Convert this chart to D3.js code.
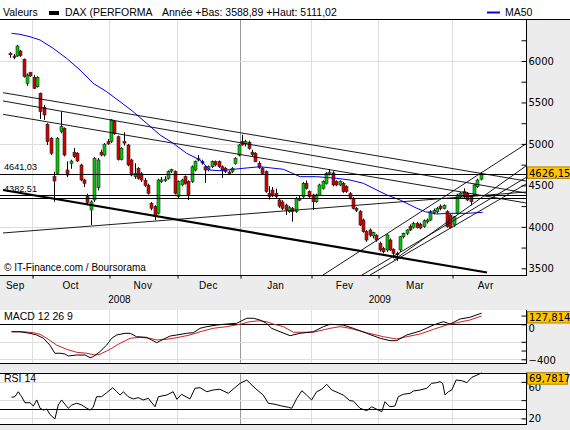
<!DOCTYPE html>
<html>
<head>
<meta charset="utf-8">
<script src="https://cdn.jsdelivr.net/npm/d3@7/dist/d3.min.js"></script>
<style>
  body { margin: 0; background: #ececec; }
  svg { display: block; font-family: "Liberation Sans", Arial, sans-serif; }
  .num { font-family: "DejaVu Sans", sans-serif; font-size: 10px; }
</style>
</head>
<body>
<script>
// daily candles, index 0 = first session shown (late Sep 2008)
var opens = [6093,6060,6060,6121,6021,5731,5859,5803,5690,5610,5441,5237,5068,4605,4645,5148,5188,4685,4766,4900,
  4887,4746,4565,4364,4204,4324,4472,4900,4866,5027,5027,5268,5087,4814,5030,4987,4806,4605,4706,4640,
  4560,4500,4284,4243,4163,4545,4560,4585,4680,4665,4364,4505,4605,4545,4545,4685,4806,4790,4725,4685,
  4725,4786,4786,4725,4706,4660,4665,4766,4866,5027,5000,5020,4900,4887,4766,4706,4665,4404,4444,4404,
  4324,4300,4263,4183,4223,4183,4340,4364,4525,4424,4384,4303,4384,4464,4525,4645,4650,4545,4505,4525,
  4485,4400,4344,4223,4183,4082,3942,3962,3890,3900,3800,3740,3721,3841,3730,3680,3721,3881,3922,4002,
  3995,4042,4030,4002,4060,4082,4170,4183,4250,4220,4183,4143,4022,4163,4364,4424,4404,4364,4384,4484,4575];
var highs = [6110,6085,6195,6135,6030,5850,5870,5830,5815,5620,5469,5250,5080,4665,5080,5389,5200,4790,4810,4950,
  4900,4760,4580,4400,4320,4840,4830,4930,5010,5060,5300,5280,5100,4960,5140,5000,4820,4766,4720,4660,
  4590,4520,4300,4260,4580,4600,4610,4680,4700,4680,4560,4580,4620,4560,4740,4800,4866,4810,4740,4740,
  4800,4800,4800,4740,4720,4680,4720,4840,5000,5111,5050,5040,4930,4900,4790,4720,4680,4490,4480,4460,
  4340,4320,4280,4250,4240,4360,4380,4540,4560,4440,4400,4400,4520,4560,4660,4694,4670,4560,4560,4540,
  4500,4420,4360,4240,4200,4100,3960,3980,3940,3910,3820,3760,3910,3860,3740,3700,3890,3930,3970,4030,
  4060,4060,4050,4090,4100,4200,4220,4240,4270,4270,4200,4160,4130,4400,4420,4465,4420,4380,4520,4580,4660];
var lows = [6040,6020,6050,6050,5800,5700,5810,5660,5680,5300,5290,4987,4866,4303,4630,5128,4850,4600,4700,4830,
  4780,4550,4480,4260,4022,4300,4440,4850,4850,4990,5010,5110,4800,4800,4980,4730,4610,4580,4570,4540,
  4480,4390,4200,4082,4150,4530,4540,4570,4650,4390,4350,4490,4510,4324,4530,4670,4790,4750,4530,4670,
  4710,4730,4710,4590,4650,4630,4650,4750,4850,4980,4970,4930,4850,4780,4700,4630,4410,4330,4360,4340,
  4230,4200,4143,4170,4062,4170,4310,4350,4450,4350,4203,4290,4370,4450,4510,4620,4490,4490,4490,4410,
  4410,4330,4210,4180,4010,3930,3820,3880,3860,3820,3700,3680,3700,3710,3620,3588.89,3700,3860,3900,3950,
  3980,3980,3970,3990,4040,4070,4150,4160,4200,4210,3990,3980,4000,4150,4350,4350,4310,4260,4370,4470,4560];
var closes = [6075,6045,6181,6064,5811,5831,5819,5670,5803,5389,5349,5027,4887,4553,5068,5208,4866,4625,4793,4846,
  4794,4565,4525,4296,4300,4826,4806,4866,4997,5000,5289,5128,4814,4947,5010,4746,4625,4645,4585,4565,
  4500,4404,4224,4122,4565,4565,4575,4665,4690,4404,4545,4565,4525,4384,4725,4786,4826,4770,4685,4725,
  4786,4746,4725,4685,4665,4646,4706,4826,4987,4987,5030,4947,4870,4786,4718,4645,4424,4364,4384,4364,
  4251,4223,4203,4230,4183,4344,4330,4525,4464,4364,4303,4384,4505,4545,4645,4660,4505,4505,4545,4424,
  4424,4350,4223,4200,4022,3942,3841,3900,3930,3841,3721,3700,3902,3721,3680,3666,3881,3922,3962,3962,
  4042,3990,3985,4074,4082,4183,4200,4223,4220,4260,4002,3990,4122,4384,4404,4364,4324,4303,4505,4565,4626.15];

// 2009 range shown in the header
var yearLow = 3588.89, yearHigh = 5111.02;

// MA50, read at sample sessions
var maAt  = [0.4,2.9,5.9,8.9,12.8,16.8,20.8,24.7,28.7,32.7,36.6,40.6,44.6,48.5,52.5,56.5,59.5,62.4,69.4,74.3,
  81.3,86.3,91.2,97.2,101.1,105.1,109.1,112.1,116,121,123.5,126.9,130.9,135.9,140.6];
var maVal = [6334,6322,6293,6253,6153,6032,5891,5731,5630,5509,5389,5249,5108,5008,4887,4806,4685,4677,4706,4725,
  4694,4605,4605,4585,4565,4525,4444,4384,4324,4224,4183,4155,4163,4163,4175];

// MACD 12 26 9 (line and signal)
var macdAt  = [0.4,2.9,5.9,7.9,9.9,11.8,13.3,14.8,16.3,17.3,19.8,22.3,23.8,24.7,26.7,28.7,30.2,31.7,34.2,35.7,
  37.6,40.6,42.1,43.6,45.6,47.6,49.6,52.5,54.5,56.5,58.5,61.5,64.4,67.4,70.4,72.4,74.3,76.3,77.8,80.3,
  83.3,86.2,90.2,93.2,95.2,99.1,102.1,106.1,110.1,113,115,118,122,126,128.9,130.9,133.9,136.8,140.3];
var macdVal = [-85,-85,-103,-122,-160,-237,-331,-331,-339,-362,-351,-351,-382,-370,-313,-237,-160,-122,-103,-103,
  -142,-149,-179,-210,-171,-134,-122,-103,-96,-46,-27,-8,3,11,69,69,49,11,-46,-85,
  -130,-103,-85,-27,0,-8,-46,-103,-160,-187,-187,-122,-77,-8,30,3,61,80,127.8149];
var sigAt  = [0.4,3.9,6.9,8.9,11.3,13.8,16.8,19.8,22.8,25.2,26.7,29.7,32.7,35.7,38.6,41.6,43.6,46.6,49.6,53.5,
  56.5,60.4,64.4,68.4,71.4,74.3,76.3,78.3,81.3,84.3,90.2,95.2,98.2,101.1,106.1,111.1,115,118,122,126,
  129.9,132.9,136.8,140.3];
var sigVal = [-85,-85,-96,-114,-171,-237,-286,-320,-331,-351,-343,-286,-217,-160,-149,-160,-179,-171,-153,-122,
  -85,-46,-27,0,30,41,30,3,-27,-91,-91,-46,-27,-46,-96,-142,-168,-142,-111,-57,
  -8,18,49,95];

// RSI 14
var rsiAt  = [0.4,1.4,2.4,3.4,4.4,5.9,6.9,7.9,8.9,9.9,10.9,11.8,13.3,14.3,15.3,16.3,17.3,18.3,19.8,21.3,
  22.8,23.8,24.7,25.7,27.2,28.7,30.5,31.7,32.7,33.7,35.1,36.6,38.1,39.6,41.1,43.1,44.1,46.6,48.5,49.6,
  51,53.5,55,56.5,58.5,60.4,62.4,64.9,68.4,70.4,72.9,75.3,76.8,78.8,80.8,82.8,83.8,85.3,86.8,88.2,
  89.7,91.2,92.7,94.2,95.7,97.6,99.1,101.1,102.1,104.1,106.1,107.6,109.1,110.6,111.5,113,114.5,115.5,117,119,
  120,122,124,125.4,126.9,127.9,128.7,129.4,130.4,131.4,132.7,134.4,135.9,137.4,139,140.3];
var rsiVal = [43.1,43.8,49.2,43.8,37.2,37.2,33.6,40.2,31.1,29.2,30.3,24.5,19.4,34.7,40.2,35.5,31.1,34.7,36.6,34.7,
  31.1,29.2,32.2,43.8,43.8,48.1,53.6,49.2,45.6,49.2,43.8,41.3,42.7,40.2,42.0,32.8,43.8,45.6,49.2,40.9,
  46.4,41.3,53.0,53.6,49.2,51.1,51.9,47.5,58.4,62.0,53.0,45.6,36.6,35.5,33.6,32.2,31.1,42.0,50.3,45.6,
  40.2,49.2,51.9,57.3,51.1,48.1,45.6,39.4,39.1,31.1,28.5,32.8,30.0,27.4,38.3,32.8,33.6,43.8,46.4,47.5,
  50.0,51.1,53.0,58.4,59.1,60.2,58.4,45.6,49.2,51.1,62.0,61.3,59.1,65.0,67.5,69.7817];

// months: index of first session of each month (Sep start lies before the chart)
var monthNames = ["Sep","Oct","Nov","Dec","Jan","Fev","Mar","Avr"];
var monthFirst = [-3, 7, 30, 50, 69, 90, 110, 132, 152];
var years = [{label: "2008", from: 0, to: 4}, {label: "2009", from: 4, to: 8}];

// drawn levels and trend lines, in [session, price]
var levels = [4641.03, 4382.51, 4343];
var levelLabels = ["4641,03", "4382,51"];
var trendLines = [
  [[-2.14, 5618], [153.5, 4553]],
  [[-2.14, 5518], [153.5, 4408]],
  [[-2.14, 5357], [153.5, 4288]],
  [[-2.14, 3926], [153.5, 4420]],
  [[93.1, 3419], [153.5, 5000]],
  [[104.7, 3419], [153.5, 4595]],
  [[107.1, 3419], [153.5, 4517]],
  [[114.2, 3600], [153.5, 4734]]
];
var supportLine = [[-2.14, 4444], [141.9, 3449]];

var W = 570, H = 430;
var left = 0, right = 526;
var mainTop = 19, mainBottom = 275;

var svg = d3.select("body").append("svg").attr("width", W).attr("height", H);

var x = d3.scaleLinear().domain([-2.14, 153.5]).range([3, right]);
var y = d3.scaleLinear().domain([3500, 6000]).range([268.3, 61]);
var yM = d3.scaleLinear().domain([-400, 0]).range([359.3, 324.3]);
var yR = d3.scaleLinear().domain([30, 70]).range([409.3, 372.7]);

var comma = function(v, p) { return d3.format("." + p + "f")(v).replace(".", ","); };

// backgrounds
svg.append("rect").attr("x", 0).attr("y", 0).attr("width", W).attr("height", mainTop).attr("fill", "#fff");
svg.append("rect").attr("x", left).attr("y", mainTop).attr("width", right - left).attr("height", mainBottom - mainTop).attr("fill", "#fff");
svg.append("rect").attr("x", left).attr("y", 310).attr("width", right - left).attr("height", 53).attr("fill", "#fff");
svg.append("rect").attr("x", left).attr("y", 372.7).attr("width", right - left).attr("height", 51.3).attr("fill", "#fff");

var defs = svg.append("defs");
defs.append("clipPath").attr("id", "clipMain").append("rect")
  .attr("x", left).attr("y", mainTop).attr("width", right - left).attr("height", mainBottom - mainTop);

var bounds = monthFirst.map(function(d) { return d - 0.5; });

// vertical grid in every panel
[[mainTop, mainBottom], [310, 363], [372.7, 424]].forEach(function(p) {
  svg.append("g").selectAll("line").data(bounds.slice(1, 8)).enter().append("line")
    .attr("x1", function(d) { return Math.round(x(d)) + 0.5; })
    .attr("x2", function(d) { return Math.round(x(d)) + 0.5; })
    .attr("y1", p[0]).attr("y2", p[1])
    .attr("stroke", function(d, i) { return i == 3 ? "#999" : "#dedede"; });
});

// horizontal grid
svg.append("g").selectAll("line").data([6000, 5000, 4000]).enter().append("line")
  .attr("x1", left).attr("x2", right)
  .attr("y1", function(d) { return Math.round(y(d)) + 0.5; })
  .attr("y2", function(d) { return Math.round(y(d)) + 0.5; })
  .attr("stroke", "#dedede");
svg.append("g").selectAll("line").data([-200, -400]).enter().append("line")
  .attr("x1", left).attr("x2", right)
  .attr("y1", function(d) { return Math.round(yM(d)) + 0.5; })
  .attr("y2", function(d) { return Math.round(yM(d)) + 0.5; })
  .attr("stroke", "#dedede");
svg.append("g").selectAll("line").data([60, 40, 20]).enter().append("line")
  .attr("x1", left).attr("x2", right)
  .attr("y1", function(d) { return Math.round(yR(d)) + 0.5; })
  .attr("y2", function(d) { return Math.round(yR(d)) + 0.5; })
  .attr("stroke", "#dedede");

var plot = svg.append("g").attr("clip-path", "url(#clipMain)");

// candles
var candles = plot.append("g").selectAll("g").data(closes).enter().append("g");
candles.append("line")
  .attr("x1", function(d, i) { return Math.round(x(i)) + 0.5; })
  .attr("x2", function(d, i) { return Math.round(x(i)) + 0.5; })
  .attr("y1", function(d, i) { return y(highs[i]); })
  .attr("y2", function(d, i) { return y(lows[i]); })
  .attr("stroke", "#000");
candles.append("rect")
  .attr("x", function(d, i) { return Math.round(x(i)) - 1; })
  .attr("width", 3)
  .attr("y", function(d, i) { return y(Math.max(opens[i], d)); })
  .attr("height", function(d, i) { return Math.max(1.5, Math.abs(y(opens[i]) - y(d))); })
  .attr("fill", function(d, i) { return d >= opens[i] ? "#00c800" : "#d40000"; })
  .attr("stroke", "#222").attr("stroke-width", 0.6);

// MA50
plot.append("path")
  .datum(maAt)
  .attr("fill", "none").attr("stroke", "#0000ee").attr("stroke-width", 1)
  .attr("d", d3.line().x(function(d) { return x(d); }).y(function(d, i) { return y(maVal[i]); }));

// levels
plot.append("g").selectAll("line").data(levels).enter().append("line")
  .attr("x1", left).attr("x2", right)
  .attr("y1", function(d) { return Math.round(y(d)) + 0.5; })
  .attr("y2", function(d) { return Math.round(y(d)) + 0.5; })
  .attr("stroke", "#000");

// trend lines
var seg = d3.line().x(function(d) { return x(d[0]); }).y(function(d) { return y(d[1]); });
plot.append("g").selectAll("path").data(trendLines).enter().append("path")
  .attr("d", seg).attr("fill", "none").attr("stroke", "#000").attr("stroke-width", 0.9);
plot.append("path").datum(supportLine).attr("d", seg)
  .attr("fill", "none").attr("stroke", "#000").attr("stroke-width", 2.2);

// level labels
svg.append("g").selectAll("text").data(levelLabels).enter().append("text")
  .attr("x", 4).attr("y", function(d, i) { return y(levels[i]) - 3.5; })
  .attr("font-size", 9.5).attr("textLength", 33).attr("lengthAdjust", "spacingAndGlyphs")
  .text(function(d) { return d; });

// copyright
svg.append("text").attr("x", 4).attr("y", 271).attr("font-size", 10)
  .text("\u00a9 IT-Finance.com / Boursorama");

// frame of main panel
svg.append("line").attr("x1", 0).attr("x2", W).attr("y1", mainTop + 0.5).attr("y2", mainTop + 0.5).attr("stroke", "#000");
svg.append("line").attr("x1", left).attr("x2", right + 1).attr("y1", mainBottom + 0.5).attr("y2", mainBottom + 0.5).attr("stroke", "#000");
svg.append("line").attr("x1", right + 0.5).attr("x2", right + 0.5).attr("y1", mainTop).attr("y2", mainBottom + 1).attr("stroke", "#000");

// right price axis
var majors = [3500, 4000, 4500, 5000, 5500, 6000];
var allTicks = d3.range(3500, 6251, 250);
svg.append("g").attr("transform", "translate(" + (right + 0.5) + ",0)")
  .call(d3.axisLeft(y).tickValues(allTicks).tickSize(5).tickFormat(""))
  .call(function(g) { g.select(".domain").remove(); });
svg.append("g").attr("class", "num").attr("transform", "translate(" + (right + 0.5) + ",0)")
  .call(d3.axisRight(y).tickValues(majors).tickSize(0).tickPadding(2).tickFormat(d3.format("d")))
  .call(function(g) { g.select(".domain").remove(); g.selectAll("text").attr("font-size", 10).attr("font-family", "DejaVu Sans"); });

// bottom time axis
svg.append("g").attr("transform", "translate(0," + (mainBottom + 0.5) + ")")
  .call(d3.axisBottom(x).tickValues(bounds.slice(1, 8)).tickSize(3).tickFormat(""))
  .call(function(g) { g.select(".domain").remove(); g.selectAll("line").attr("transform", function(d) { return "translate(" + (Math.round(x(d)) + 0.5 - x(d)) + ",0)"; }); });
svg.append("g").selectAll("text").data(monthNames).enter().append("text")
  .attr("x", function(d, i) { return x((bounds[i] + bounds[i + 1]) / 2); })
  .attr("y", 289).attr("text-anchor", "middle").attr("font-size", 10).attr("letter-spacing", 0.3)
  .text(function(d) { return d; });
svg.append("g").selectAll("text").data(years).enter().append("text")
  .attr("x", function(d) { return x((bounds[d.from] + bounds[d.to]) / 2); })
  .attr("y", 303).attr("text-anchor", "middle").attr("font-size", 10)
  .text(function(d) { return d.label; });

// value box helper
function valueBox(txt, cy, w) {
  var g = svg.append("g");
  g.append("rect").attr("x", right + 1.5).attr("y", cy).attr("width", w).attr("height", 11.5)
    .attr("fill", "#ffc600").attr("stroke", "#b08000").attr("stroke-width", 1);
  g.append("text").attr("class", "num").attr("x", right + 3).attr("y", cy + 9.6).text(txt);
}
valueBox(comma(closes[closes.length - 1], 2), y(closes[closes.length - 1]) - 8, 45);

// header
svg.append("text").attr("x", 3).attr("y", 16).attr("font-size", 10.5).text("Valeurs");
svg.append("rect").attr("x", 49).attr("y", 11).attr("width", 10).attr("height", 4).attr("fill", "#000");
svg.append("text").attr("x", 65).attr("y", 16).attr("font-size", 10.5).text("DAX (PERFORMA");
svg.append("text").attr("x", 162).attr("y", 16).attr("font-size", 10.5)
  .text("Ann\u00e9e +Bas: " + comma(yearLow, 2) + " +Haut: " + comma(yearHigh, 2));
svg.append("line").attr("x1", 487).attr("x2", 500).attr("y1", 12.5).attr("y2", 12.5).attr("stroke", "#0000ee").attr("stroke-width", 2);
svg.append("text").attr("x", 505).attr("y", 16).attr("font-size", 10.5).text("MA50");

// MACD panel
svg.append("line")
  .attr("x1", left).attr("x2", right).attr("y1", Math.round(yM(0)) + 0.5).attr("y2", Math.round(yM(0)) + 0.5).attr("stroke", "#000");
svg.append("line").attr("x1", left).attr("x2", right + 1).attr("y1", 363.5).attr("y2", 363.5).attr("stroke", "#000");
svg.append("line").attr("x1", right + 0.5).attr("x2", right + 0.5).attr("y1", 310).attr("y2", 364).attr("stroke", "#000");
svg.append("path").datum(sigAt).attr("fill", "none").attr("stroke", "#d02020")
  .attr("d", d3.line().x(function(d) { return x(d); }).y(function(d, i) { return yM(sigVal[i]); }));
svg.append("path").datum(macdAt).attr("fill", "none").attr("stroke", "#000")
  .attr("d", d3.line().x(function(d) { return x(d); }).y(function(d, i) { return yM(macdVal[i]); }));
svg.append("text").attr("x", 4).attr("y", 320).attr("font-size", 10.5).text("MACD 12 26 9");
svg.append("g").attr("transform", "translate(" + (right + 0.5) + ",0)")
  .call(d3.axisLeft(yM).tickValues([100, 0, -200, -300, -400]).tickSize(5).tickFormat(""))
  .call(function(g) { g.select(".domain").remove(); });
svg.append("g").attr("class", "num").attr("transform", "translate(" + (right + 0.5) + ",0)")
  .call(d3.axisRight(yM).tickValues([0, -400]).tickSize(0).tickPadding(2).tickFormat(d3.format("d")))
  .call(function(g) {
    g.select(".domain").remove();
    g.selectAll("text").attr("font-size", 10).attr("font-family", "DejaVu Sans")
      .attr("dy", function(d) { return d == 0 ? "0.75em" : "0.45em"; });
  });
valueBox(comma(macdVal[macdVal.length - 1], 4), Math.max(311.5, yM(macdVal[macdVal.length - 1]) - 6), 45);

// RSI panel
svg.append("g").selectAll("line").data([70, 30]).enter().append("line")
  .attr("x1", left).attr("x2", right)
  .attr("y1", function(d) { return Math.round(yR(d)) + 0.5; })
  .attr("y2", function(d) { return Math.round(yR(d)) + 0.5; })
  .attr("stroke", "#000");
svg.append("line").attr("x1", left).attr("x2", right + 1).attr("y1", 424.5).attr("y2", 424.5).attr("stroke", "#000");
svg.append("line").attr("x1", right + 0.5).attr("x2", right + 0.5).attr("y1", 372.7).attr("y2", 425).attr("stroke", "#000");
svg.append("path").datum(rsiAt).attr("fill", "none").attr("stroke", "#000")
  .attr("d", d3.line().x(function(d) { return x(d); }).y(function(d, i) { return yR(rsiVal[i]); }));
svg.append("text").attr("x", 4).attr("y", 382).attr("font-size", 10.5).text("RSI 14");
svg.append("g").attr("transform", "translate(" + (right + 0.5) + ",0)")
  .call(d3.axisLeft(yR).tickValues([60, 40, 20]).tickSize(5).tickFormat(""))
  .call(function(g) { g.select(".domain").remove(); });
svg.append("g").attr("class", "num").attr("transform", "translate(" + (right + 0.5) + ",0)")
  .call(d3.axisRight(yR).tickValues([60, 20]).tickSize(0).tickPadding(2).tickFormat(d3.format("d")))
  .call(function(g) {
    g.select(".domain").remove();
    g.selectAll("text").attr("font-size", 10).attr("font-family", "DejaVu Sans")
      .attr("dy", function(d) { return d == 60 ? "0.9em" : "0.32em"; });
  });
valueBox(comma(rsiVal[rsiVal.length - 1], 4), Math.max(372.7, yR(rsiVal[rsiVal.length - 1]) - 6), 40);
</script>
</body>
</html>
